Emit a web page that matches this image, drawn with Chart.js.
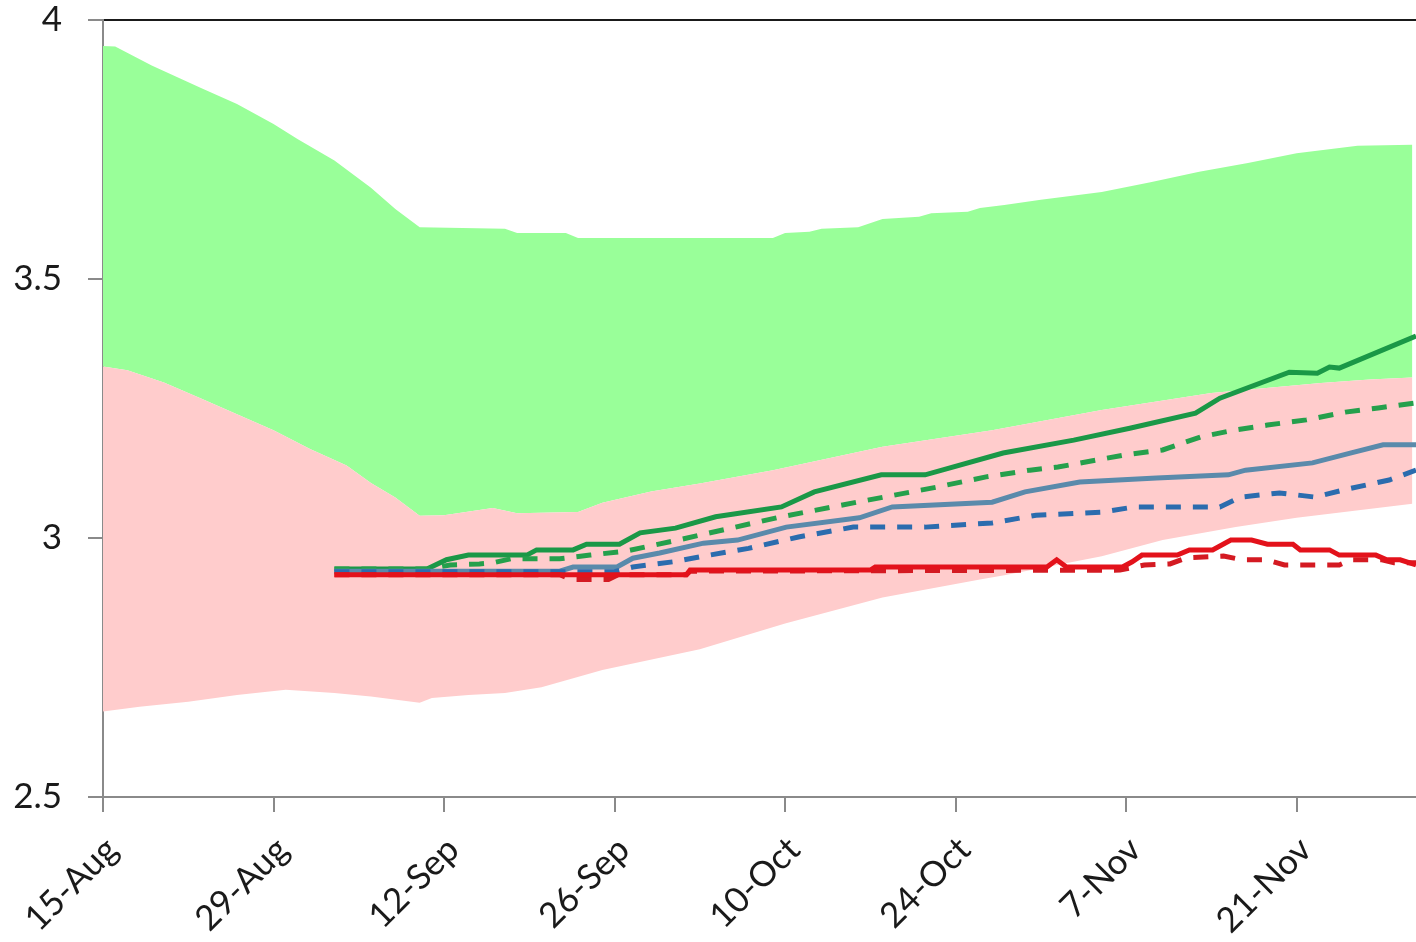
<!DOCTYPE html>
<html>
<head>
<meta charset="utf-8">
<script src="https://cdn.jsdelivr.net/npm/chart.js@4.4.0/dist/chart.umd.min.js"></script>
<style>
  html, body { margin: 0; padding: 0; background: #fff; }
  #wrap { width: 1416px; height: 942px; }
</style>
</head>
<body>
<div id="wrap"><canvas id="bands"></canvas></div>
<script>
// x = days since 15-Aug
const tickDays = [0, 14, 28, 42, 56, 70, 84, 98];
const tickLabels = ["15-Aug", "29-Aug", "12-Sep", "26-Sep", "10-Oct", "24-Oct", "7-Nov", "21-Nov"];

const greenTopDays = [0, 1, 4, 8, 11, 14, 16, 19, 22, 24, 26, 33, 34, 38, 39, 55, 56, 58, 59, 62, 64, 67, 68, 71, 72, 74, 77, 82, 86, 90, 94, 98, 103, 107.5];
const greenTopVals = [3.950, 3.949, 3.912, 3.869, 3.838, 3.799, 3.770, 3.729, 3.676, 3.635, 3.600, 3.597, 3.589, 3.589, 3.579, 3.579, 3.589, 3.591, 3.597, 3.600, 3.616, 3.620, 3.627, 3.630, 3.637, 3.643, 3.653, 3.668, 3.687, 3.707, 3.724, 3.743, 3.757, 3.759];

const pinkTopDays = [0, 2, 5, 8, 11, 14, 17, 20, 22, 24, 26, 28, 32, 34, 39, 41, 45, 49, 55, 64, 73, 82, 91, 100, 104, 107.5];
const pinkTopVals = [3.331, 3.324, 3.300, 3.270, 3.239, 3.208, 3.172, 3.140, 3.106, 3.078, 3.043, 3.044, 3.058, 3.048, 3.050, 3.068, 3.090, 3.105, 3.131, 3.176, 3.208, 3.247, 3.280, 3.299, 3.306, 3.310];

const pinkLowDays = [0, 3, 7, 11, 15, 19, 22, 26, 27, 30, 33, 36, 41, 49, 56, 64, 72, 74, 82, 87, 93, 98, 107.5];
const pinkLowVals = [2.665, 2.674, 2.684, 2.697, 2.707, 2.701, 2.694, 2.682, 2.691, 2.697, 2.701, 2.712, 2.745, 2.785, 2.835, 2.885, 2.920, 2.928, 2.965, 2.996, 3.021, 3.039, 3.066];

const greenSolidDays = [19, 26.6, 28.2, 30, 34.8, 35.6, 38.6, 39.7, 42.4, 44.1, 47, 50.3, 55.7, 58.4, 63.9, 67.5, 73.9, 79.7, 84.3, 89.7, 91.7, 97.4, 99.7, 100.7, 101.5, 107.8];
const greenSolidVals = [2.940, 2.940, 2.958, 2.967, 2.967, 2.977, 2.977, 2.988, 2.988, 3.010, 3.019, 3.041, 3.060, 3.089, 3.122, 3.122, 3.164, 3.189, 3.212, 3.241, 3.270, 3.320, 3.318, 3.330, 3.328, 3.390];

const greenDashDays = [19, 26.6, 28.5, 30.9, 32, 33.5, 37.5, 40, 43, 45, 47.2, 55.7, 62.1, 68.4, 72.5, 76.1, 78.4, 83.8, 87, 90.1, 92.8, 95.6, 98.8, 102, 104.7, 107.8];
const greenDashVals = [2.940, 2.940, 2.948, 2.950, 2.952, 2.960, 2.960, 2.967, 2.975, 2.985, 2.996, 3.041, 3.070, 3.098, 3.118, 3.131, 3.137, 3.160, 3.170, 3.195, 3.208, 3.218, 3.228, 3.243, 3.251, 3.261];

const blueSolidDays = [19, 37.5, 38.6, 42.2, 43.5, 45.7, 49.3, 52.1, 56.1, 62.1, 64.8, 73, 75.7, 80.2, 86.5, 92.4, 93.8, 99.3, 102.4, 105.1, 107.8];
const blueSolidVals = [2.936, 2.936, 2.944, 2.944, 2.961, 2.971, 2.990, 2.996, 3.021, 3.039, 3.060, 3.069, 3.089, 3.108, 3.116, 3.122, 3.131, 3.145, 3.164, 3.180, 3.180];

const blueDashDays = [19, 42, 43.5, 46.8, 49.8, 53, 57.1, 61.6, 67.5, 73, 76.6, 82, 84.7, 91.7, 93.4, 96.6, 99.5, 101.9, 105.6, 107.8];
const blueDashVals = [2.935, 2.935, 2.944, 2.954, 2.967, 2.980, 3.002, 3.021, 3.021, 3.029, 3.044, 3.050, 3.060, 3.060, 3.079, 3.087, 3.079, 3.093, 3.112, 3.131];

const redSolidDays = [19, 47.9, 48.2, 63, 63.4, 77.5, 78.3, 79.1, 83.7, 84.5, 85.3, 88.2, 89.2, 91.1, 92.6, 94.3, 95.6, 97.7, 98.3, 100.7, 101.5, 104.5, 105.4, 106.5, 107.8];
const redSolidVals = [2.929, 2.929, 2.938, 2.938, 2.944, 2.944, 2.958, 2.944, 2.944, 2.954, 2.967, 2.967, 2.977, 2.977, 2.996, 2.996, 2.988, 2.988, 2.977, 2.977, 2.967, 2.967, 2.958, 2.958, 2.948];

const redDashDays = [19, 37.5, 38.5, 41.5, 42.3, 47.9, 48.2, 83.5, 85.5, 87.6, 89, 92, 93.5, 95.5, 97, 101.5, 102.5, 105, 106, 107.8];
const redDashVals = [2.929, 2.929, 2.920, 2.920, 2.929, 2.929, 2.936, 2.938, 2.948, 2.950, 2.962, 2.965, 2.958, 2.958, 2.948, 2.948, 2.958, 2.958, 2.952, 2.952];

const pts = (days, vals) => days.map((d, i) => ({ x: d, y: vals[i] }));

function line(data, color, dashed) {
  return {
    data: data,
    borderColor: color,
    borderWidth: 5,
    borderDash: dashed ? [15, 12] : [],
    pointRadius: 0,
    fill: false,
  };
}

const band = (data, fill, bg) => ({
  data: data,
  borderWidth: 0,
  pointRadius: 0,
  backgroundColor: bg,
  fill: fill,
});

new Chart("bands", {
  type: "line",
  data: {
    datasets: [
      line(pts(redSolidDays, redSolidVals), "#e3121b", false),
      line(pts(redDashDays, redDashVals), "#d41a22", true),
      line(pts(blueDashDays, blueDashVals), "#2b6cae", true),
      line(pts(blueSolidDays, blueSolidVals), "#5a8aab", false),
      line(pts(greenDashDays, greenDashVals), "#25a04c", true),
      line(pts(greenSolidDays, greenSolidVals), "#1a9847", false),
      band(pts(pinkTopDays, pinkTopVals), 8, "#ffcccc"),
      band(pts(greenTopDays, greenTopVals), 6, "#99ff99"),
      band(pts(pinkLowDays, pinkLowVals), false, "rgba(0,0,0,0)"),
    ],
  },
  options: {
    responsive: true,
    maintainAspectRatio: false,
    animation: false,
    layout: { padding: { top: 20, left: 0, right: 0, bottom: 0 } },
    plugins: { legend: { display: false }, tooltip: { enabled: false } },
    scales: {
      x: {
        type: "linear",
        min: 0,
        max: 107.8,
        afterBuildTicks: (scale) => {
          scale.ticks = tickDays.map((d) => ({ value: d }));
        },
        afterFit: (scale) => {
          scale.height = 145;
          scale.paddingLeft = 0;
          scale.paddingRight = 0;
        },
        ticks: {
          autoSkip: false,
          maxRotation: 45,
          minRotation: 45,
          padding: 17,
          labelOffset: 9,
          color: "#1a1a1a",
          font: { family: "Lato", size: 35 },
          callback: (v) => tickLabels[tickDays.indexOf(v)],
        },
        grid: { drawOnChartArea: false, tickLength: 15, color: "#8a8a8a", lineWidth: 2 },
        border: { color: "#8a8a8a", width: 2 },
      },
      top: {
        type: "linear",
        position: "top",
        min: 0,
        max: 1,
        ticks: { display: false },
        grid: { display: false, drawTicks: false },
        border: { display: true, color: "#1a1a1a", width: 2 },
      },
      y: {
        min: 2.5,
        max: 4,
        afterBuildTicks: (scale) => {
          scale.ticks = [2.5, 3, 3.5, 4].map((v) => ({ value: v }));
        },
        afterFit: (scale) => {
          scale.width = 103;
          scale.paddingTop = 0;
          scale.paddingBottom = 0;
        },
        ticks: {
          padding: 26,
          color: "#1a1a1a",
          font: { family: "Lato", size: 35 },
          callback: (v) => String(v),
        },
        grid: { drawOnChartArea: false, tickLength: 15, color: "#8a8a8a", lineWidth: 2 },
        border: { color: "#8a8a8a", width: 2 },
      },
    },
  },
});
</script>
</body>
</html>
